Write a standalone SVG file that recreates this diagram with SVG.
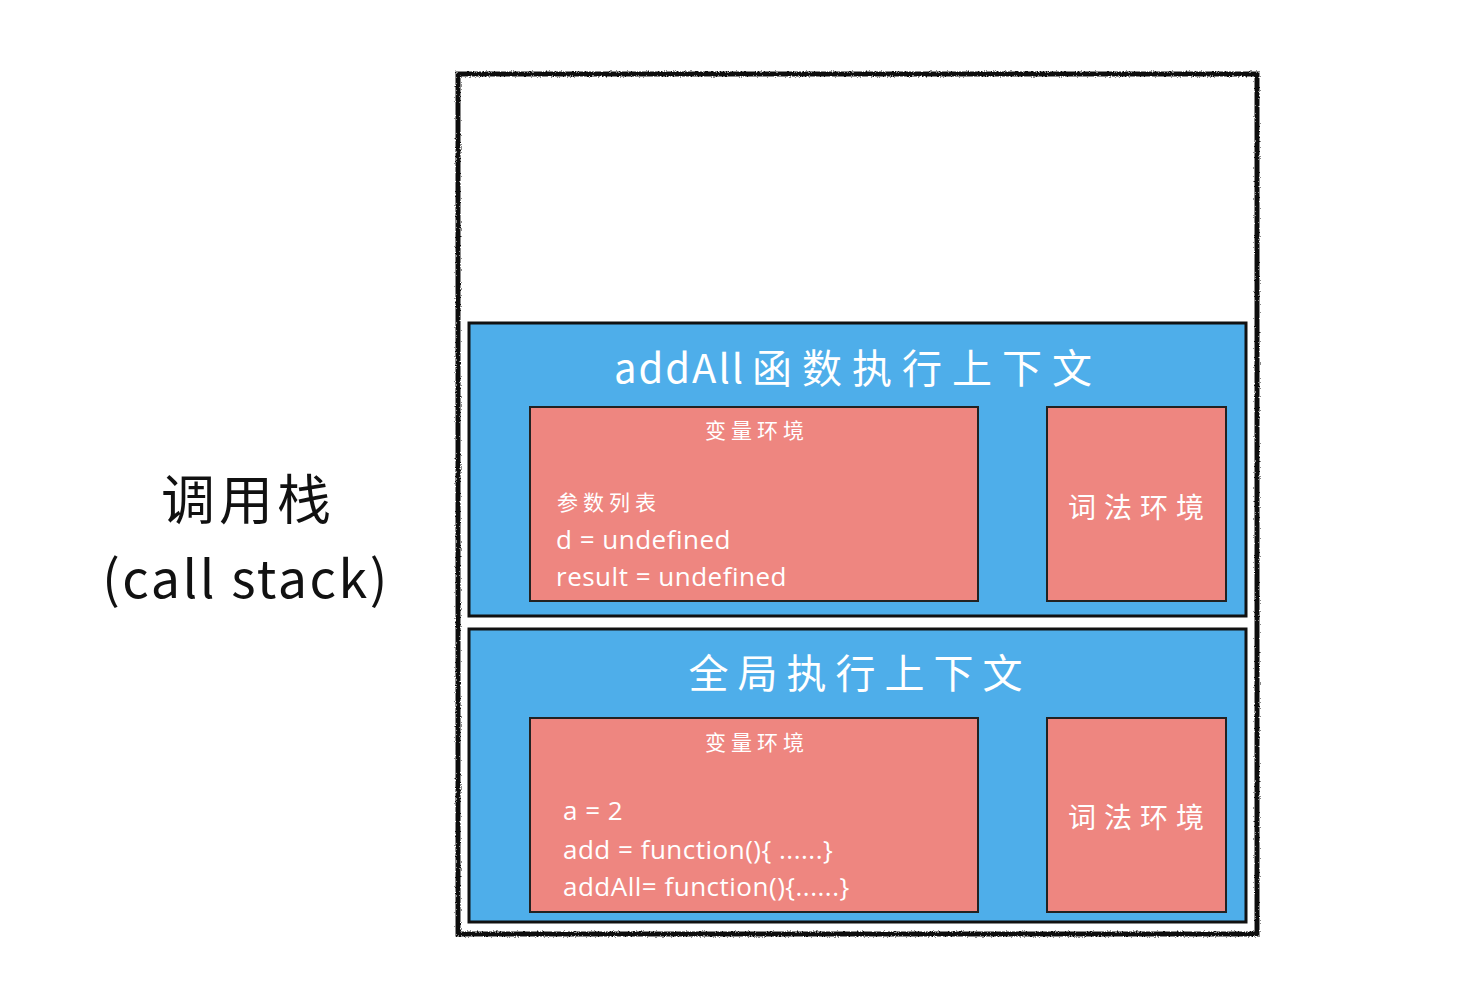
<svg xmlns="http://www.w3.org/2000/svg" width="1472" height="990" viewBox="0 0 1472 990">
<defs>
<filter id="rough" x="-5%" y="-5%" width="110%" height="110%">
<feTurbulence type="fractalNoise" baseFrequency="0.8" numOctaves="2" seed="3" result="n"/>
<feDisplacementMap in="SourceGraphic" in2="n" scale="3" xChannelSelector="R" yChannelSelector="G"/>
</filter>
</defs>
<style>
.ctx{fill:#4eaeea;stroke:#111;stroke-width:3}
.env{fill:#ee8680;stroke:#222;stroke-width:2}
.title{font-family:"Noto Sans CJK SC","Noto Sans",sans-serif;font-size:40px;fill:#fff}
.small{font-family:"Noto Sans CJK SC","Noto Sans",sans-serif;font-size:21px;fill:#fff;letter-spacing:5px}
.code{font-family:"Open Sans","Noto Sans CJK SC",sans-serif;font-size:26px;fill:#fff}
.lex{font-family:"Noto Sans CJK SC",sans-serif;font-size:28px;fill:#fff;text-anchor:middle;letter-spacing:8px}
.label{font-family:"Noto Sans CJK SC","Noto Sans",sans-serif;fill:#111;text-anchor:middle}
</style>
<rect width="1472" height="990" fill="#fff"/>
<g id="callstack-label">
<text class="label" x="248" y="520" font-size="54" letter-spacing="4">调用栈</text>
<text class="label" x="246" y="598" font-size="52" letter-spacing="2.5" font-family="Noto Sans, sans-serif">(call stack)</text>
</g>
<g id="stack">
<rect x="458" y="74" width="799" height="860" fill="none" stroke="#111" stroke-width="5" filter="url(#rough)"/>
</g>
<g id="addall-context">
<rect class="ctx" x="469" y="323" width="777" height="293"/>
<text class="title" x="614" y="383"><tspan letter-spacing="2">addAll</tspan><tspan x="752" letter-spacing="10">函数执行上下文</tspan></text>
</g>
<g id="addall-variable-env">
<rect class="env" x="530" y="407" width="448" height="194"/>
<text class="small" x="757" y="438" text-anchor="middle">变量环境</text>
<text class="small" x="557" y="510">参数列表</text>
<text class="code" x="556" y="549" letter-spacing="0.5">d = undefined</text>
<text class="code" x="556" y="586" letter-spacing="0.5">result = undefined</text>
</g>
<g id="addall-lexical-env">
<rect class="env" x="1047" y="407" width="179" height="194"/>
<text class="lex" x="1140" y="518">词法环境</text>
</g>
<g id="global-context">
<rect class="ctx" x="469" y="629" width="777" height="293"/>
<text class="title" x="860" y="688" letter-spacing="9" text-anchor="middle">全局执行上下文</text>
</g>
<g id="global-variable-env">
<rect class="env" x="530" y="718" width="448" height="194"/>
<text class="small" x="757" y="750" text-anchor="middle">变量环境</text>
<text class="code" x="563" y="820" letter-spacing="0.5">a = 2</text>
<text class="code" x="563" y="859" letter-spacing="0.5">add = function(){ ......}</text>
<text class="code" x="563" y="896" letter-spacing="0.5">addAll= function(){......}</text>
</g>
<g id="global-lexical-env">
<rect class="env" x="1047" y="718" width="179" height="194"/>
<text class="lex" x="1140" y="828">词法环境</text>
</g>
<g id="connectors"></g>
</svg>
